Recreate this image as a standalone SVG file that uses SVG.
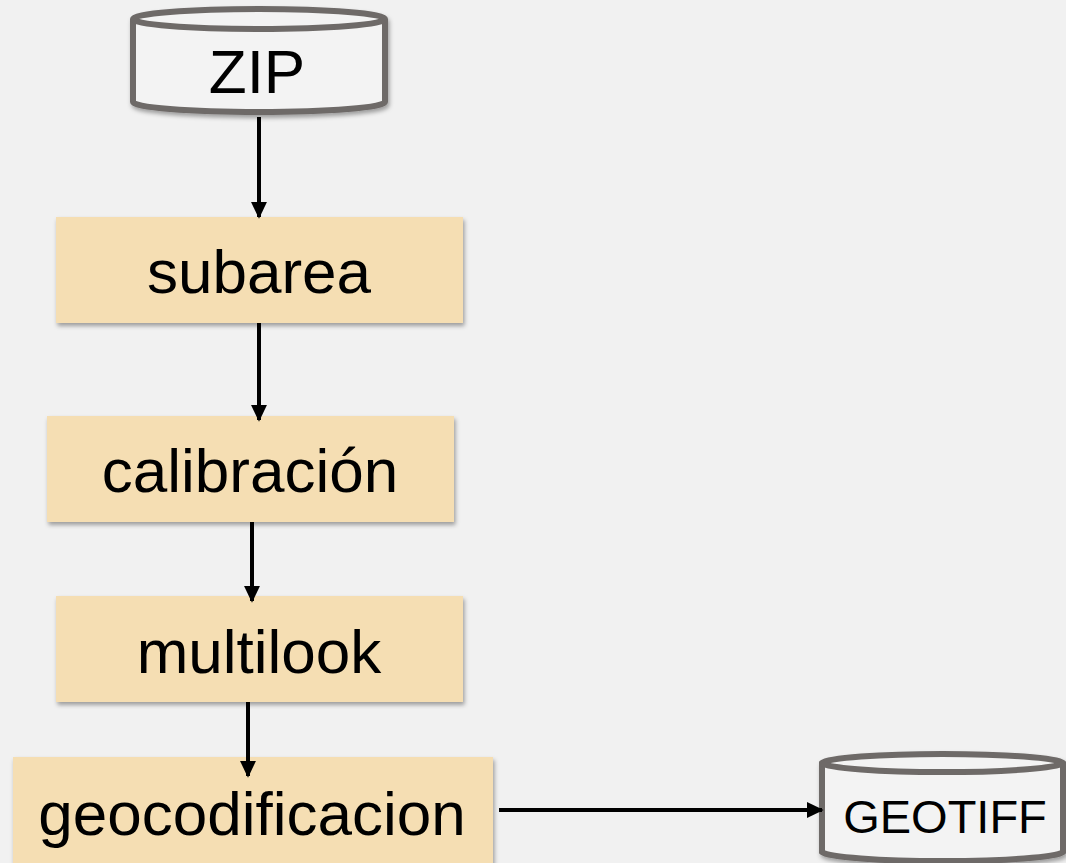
<svg xmlns="http://www.w3.org/2000/svg" width="1066" height="863" viewBox="0 0 1066 863">
<style>
.bg{fill:#f1f1f1}
.box{fill:#f5deb3;filter:url(#sh)}
.cyl{fill:#f3f3f3;stroke:#6e6a68;stroke-width:6;filter:url(#sh)}
.lid{fill:none;stroke:#6e6a68;stroke-width:6}
.lbl{font-family:"Liberation Sans",Arial,sans-serif;font-size:62px;fill:#000;text-anchor:middle}
.edge{stroke:#000;stroke-width:4;fill:none;marker-end:url(#ah)}
</style>
<defs>
<filter id="sh" x="-10%" y="-10%" width="120%" height="130%">
<feDropShadow dx="1.5" dy="3" stdDeviation="2" flood-color="#000" flood-opacity="0.35"/>
</filter>
<marker id="ah" viewBox="0 0 10 10" refX="9" refY="5" markerWidth="4.2" markerHeight="4" orient="auto" markerUnits="strokeWidth" preserveAspectRatio="none">
<path d="M0,0 L10,5 L0,10 Z" fill="#000"/>
</marker>
</defs>
<rect class="bg" x="0" y="0" width="1066" height="863"/>
<g id="zip">
<path class="cyl" d="M133,19 A126,10 0 0 1 385,19 L385,102 A126,10 0 0 1 133,102 Z"/>
<path class="lid" d="M133,19 A126,10 0 0 0 385,19"/>
<text class="lbl" x="257" y="93">ZIP</text>
</g>
<g id="subarea">
<rect class="box" x="56" y="217" width="407" height="106"/>
<text class="lbl" x="259" y="293">subarea</text>
</g>
<g id="calibracion">
<rect class="box" x="47" y="416" width="407" height="106"/>
<text class="lbl" x="250" y="492">calibración</text>
</g>
<g id="multilook">
<rect class="box" x="56" y="596" width="407" height="106"/>
<text class="lbl" x="259" y="673">multilook</text>
</g>
<g id="geocodificacion">
<rect class="box" x="13" y="757" width="480" height="120"/>
<text class="lbl" x="252" y="835">geocodificacion</text>
</g>
<g id="geotiff">
<path class="cyl" d="M822,763 A121,10 0 0 1 1063,763 L1063,852 A121,10 0 0 1 822,852 Z"/>
<path class="lid" d="M822,763 A121,10 0 0 0 1063,763"/>
<text class="lbl" x="945" y="833" style="font-size:47px">GEOTIFF</text>
</g>
<g id="connectors">
<line class="edge" x1="259" y1="117" x2="259" y2="217"/>
<line class="edge" x1="259" y1="323" x2="259" y2="420"/>
<line class="edge" x1="252" y1="522" x2="252" y2="601"/>
<line class="edge" x1="248" y1="702" x2="248" y2="776"/>
<line class="edge" x1="499" y1="810" x2="822" y2="810"/>
</g>
</svg>
